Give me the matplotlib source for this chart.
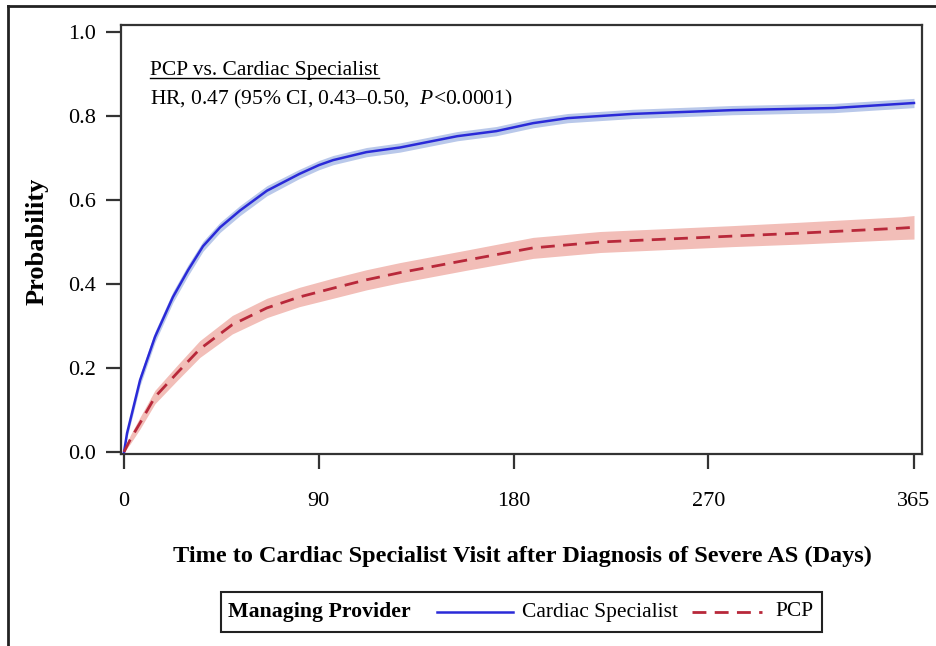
import matplotlib
matplotlib.use("Agg")
import matplotlib.pyplot as plt
from matplotlib.lines import Line2D
from matplotlib.patches import Rectangle

# ---- data ----
cs_days = [0, 1.4, 3.7, 7.4, 14.3, 22.6, 29.6, 36.5, 44.4, 53.6, 66, 81, 90, 96.6,
           112, 127.5, 154, 172, 189, 205, 235, 281, 328, 359, 365]
cs_prob = [0.0, 0.045, 0.093, 0.171, 0.274, 0.369, 0.433, 0.490, 0.535, 0.575, 0.622,
           0.662, 0.683, 0.695, 0.714, 0.725, 0.752, 0.764, 0.783, 0.795, 0.805, 0.814,
           0.819, 0.829, 0.831]
cs_lower = [0.0, 0.035, 0.081, 0.158, 0.261, 0.356, 0.420, 0.478, 0.523, 0.563, 0.610,
            0.651, 0.672, 0.684, 0.703, 0.714, 0.741, 0.753, 0.772, 0.784, 0.794, 0.803,
            0.808, 0.818, 0.820]
cs_upper = [0.0, 0.055, 0.105, 0.184, 0.287, 0.382, 0.446, 0.502, 0.547, 0.587, 0.634,
            0.673, 0.694, 0.706, 0.725, 0.736, 0.763, 0.775, 0.794, 0.806, 0.816, 0.825,
            0.830, 0.840, 0.842]

pcp_days = [0, 2.8, 7.4, 14.3, 24.5, 35, 50, 66, 81, 96.6, 112, 127.5, 158.5, 189,
            220, 251, 281, 312, 359, 365]
pcp_prob = [0.0, 0.029, 0.069, 0.131, 0.188, 0.245, 0.303, 0.343, 0.369, 0.390, 0.410,
            0.427, 0.457, 0.486, 0.500, 0.507, 0.514, 0.521, 0.533, 0.535]
pcp_lower = [0.0, 0.019, 0.055, 0.115, 0.170, 0.225, 0.281, 0.320, 0.346, 0.366, 0.386,
             0.403, 0.433, 0.461, 0.475, 0.482, 0.489, 0.495, 0.506, 0.507]
pcp_upper = [0.0, 0.039, 0.083, 0.147, 0.206, 0.265, 0.325, 0.366, 0.392, 0.414, 0.434,
             0.451, 0.481, 0.511, 0.525, 0.532, 0.539, 0.547, 0.560, 0.563]

x_ticks = [0, 90, 180, 270, 365]
y_ticks = [0.0, 0.2, 0.4, 0.6, 0.8, 1.0]
y_ticklabels = ["0.0", "0.2", "0.4", "0.6", "0.8", "1.0"]
series_labels = ["Cardiac Specialist", "PCP"]
legend_title = "Managing Provider"
x_label = "Time to Cardiac Specialist Visit after Diagnosis of Severe AS (Days)"
y_label = "Probability"
annot_title = "PCP vs. Cardiac Specialist"
annot_text = "HR, 0.47 (95% CI, 0.43\u20130.50,  $\\mathit{P}$<0.0001)"

# ---- styling ----
SERIF = "Liberation Serif"
plt.rcParams["font.family"] = [SERIF, "DejaVu Serif"]
plt.rcParams["mathtext.fontset"] = "custom"
plt.rcParams["mathtext.it"] = "Liberation Serif:italic"
plt.rcParams["mathtext.rm"] = "Liberation Serif"

blue = "#2a2ad8"
blue_band = "#b9c8ea"
red = "#b8283a"
red_band = "#f2beb8"
spine_col = "#333333"

W, H = 936, 646
fig = plt.figure(figsize=(W / 100, H / 100), dpi=100)

def fx(px):
    return px / W

def fy(py):
    return 1 - py / H

ax = fig.add_axes([fx(121), fy(454), fx(922) - fx(121), fy(25) - fy(454)])

ax.fill_between(cs_days, cs_lower, cs_upper, color=blue_band, lw=0, zorder=1)
ax.fill_between(pcp_days, pcp_lower, pcp_upper, color=red_band, lw=0, zorder=1)
ax.plot(cs_days, cs_prob, color=blue, lw=1.8, zorder=3)
ax.plot(pcp_days, pcp_prob, color=red, lw=2.0, dashes=(5, 3), zorder=3)

ax.set_xlim(-1.4, 368.7)
ax.set_ylim(-0.0048, 1.0167)
ax.set_xticks(x_ticks)
ax.set_xticklabels([str(t) for t in x_ticks])
ax.set_yticks(y_ticks)
ax.set_yticklabels(y_ticklabels)
for s in ax.spines.values():
    s.set_color(spine_col)
    s.set_linewidth(1.6)
ax.tick_params(axis="both", direction="out", length=11, width=1.6, color=spine_col,
               labelsize=16)
ax.tick_params(axis="x", pad=16)
ax.tick_params(axis="y", pad=7)

fig.text(fx(522), fy(556), x_label, ha="center", va="center",
         fontsize=17.5, fontweight="bold")
fig.text(fx(37), fy(241), y_label, rotation=90, ha="center", va="center",
         fontsize=19, fontweight="bold")

# annotation
t1 = fig.text(fx(150), fy(75), annot_title, fontsize=15.5, ha="left", va="baseline")
t2 = fig.text(fx(150), fy(104), annot_text, fontsize=15.5, ha="left", va="baseline")

fig.canvas.draw()
r = fig.canvas.get_renderer()
bb = t1.get_window_extent(renderer=r)
fig.add_artist(Line2D([bb.x0 / W, bb.x1 / W], [fy(78), fy(78)],
                      transform=fig.transFigure, color="black", lw=1.0))

# legend box (manual, SAS style)
fig.add_artist(Rectangle((fx(221), fy(632)), fx(822) - fx(221), fy(592) - fy(632),
                         transform=fig.transFigure, fill=False, ec="#222222", lw=1.5))
fig.text(fx(228), fy(612), legend_title, fontsize=15.7, fontweight="bold",
         ha="left", va="center")
fig.add_artist(Line2D([fx(437), fx(513)], [fy(612), fy(612)], transform=fig.transFigure,
                      color=blue, lw=1.8))
fig.text(fx(522), fy(612), series_labels[0], fontsize=15.5, ha="left", va="center")
fig.add_artist(Line2D([fx(692), fx(762)], [fy(612), fy(612)], transform=fig.transFigure,
                      color=red, lw=2.0, dashes=(5, 3)))
fig.text(fx(775), fy(612), series_labels[1], fontsize=15.5, ha="left", va="center")

# outer frame lines
fig.add_artist(Line2D([fx(8), fx(8)], [fy(6), 0], transform=fig.transFigure,
                      color="#222222", lw=2.0))
fig.add_artist(Line2D([fx(8), 1], [fy(6), fy(6)], transform=fig.transFigure,
                      color="#222222", lw=2.0))

fig.savefig("out.png", dpi=100)
